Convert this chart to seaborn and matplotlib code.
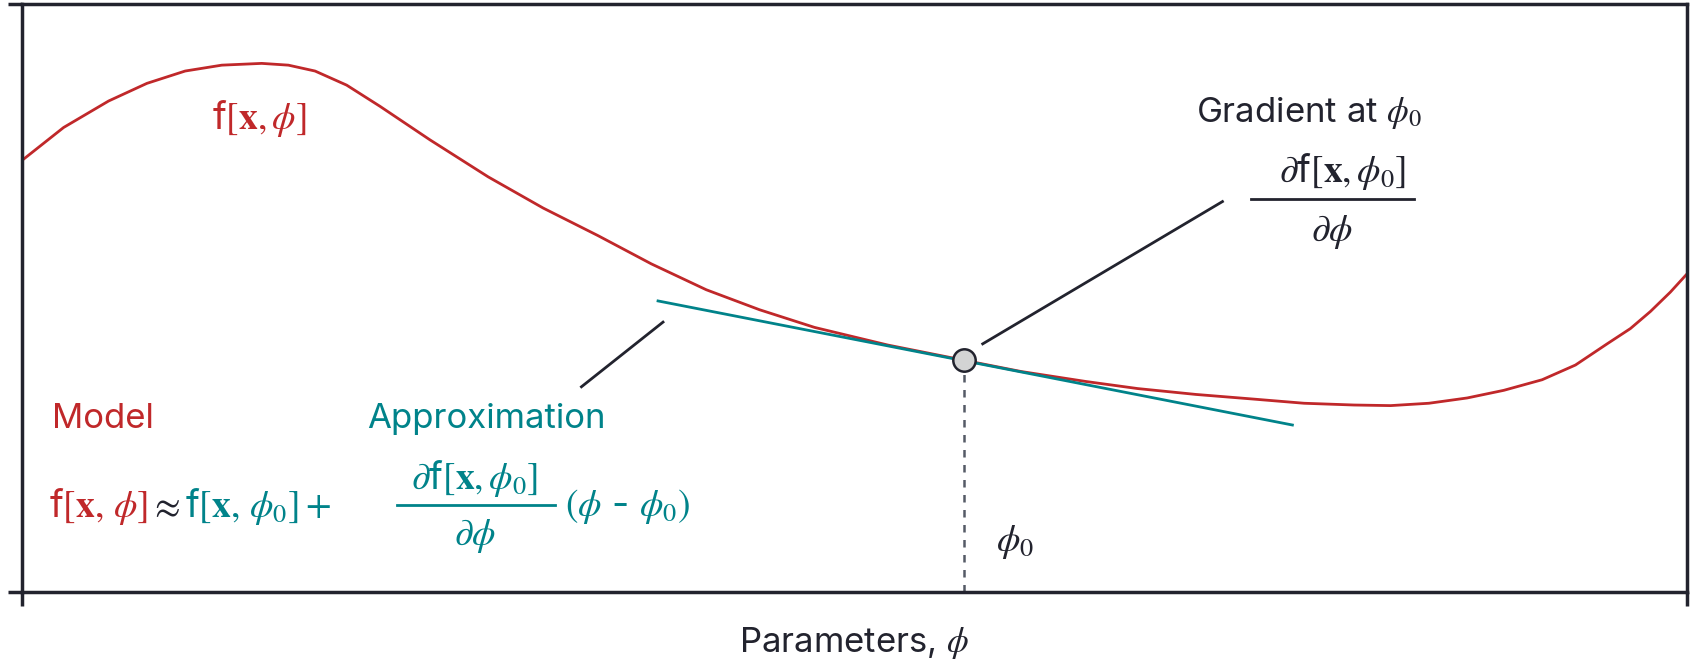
import matplotlib
matplotlib.use("Agg")
import matplotlib.pyplot as plt
import seaborn as sns
import pandas as pd

plt.rcParams["font.family"] = "Inter"
plt.rcParams["mathtext.fontset"] = "stix"

RED = "#c0282a"
TEAL = "#00838a"
DARK = "#22232e"

curve_x = [0, 2.5, 5.2, 7.5, 9.8, 12.0, 14.4, 16.0, 17.6, 19.5, 21.5, 24.5, 28.0, 31.3, 34.6, 37.8, 41.1,
           44.3, 47.6, 52.0, 56.6, 60.0, 63.9, 67.0, 70.5, 74.0, 77.0, 80.0, 82.2, 84.5, 86.8, 89.0, 91.3,
           93.3, 95.2, 96.6, 97.8, 99.0, 100]
curve_y = [73.4, 79.0, 83.5, 86.5, 88.6, 89.6, 89.9, 89.6, 88.6, 86.2, 82.6, 76.9, 70.6, 65.3, 60.6, 55.8,
           51.4, 48.0, 45.0, 42.0, 39.4, 37.5, 35.8, 34.6, 33.6, 32.8, 32.1, 31.8, 31.7, 32.1, 33.0, 34.3,
           36.1, 38.6, 42.2, 44.8, 47.7, 51.0, 54.1]
phi0 = [56.6]
phi0_y = [39.4]
tangent_x = [38.2, 76.3]
tangent_y = [49.5, 28.4]

fig = plt.figure(figsize=(16.95, 6.6), dpi=100)
ax = fig.add_axes([22/1695, 1-592/660, (1687-22)/1695, (592-4)/660])
sns.lineplot(data=pd.DataFrame({"x": curve_x, "y": curve_y}), x="x", y="y", ax=ax, color=RED, lw=2)
sns.lineplot(data=pd.DataFrame({"x": tangent_x, "y": tangent_y}), x="x", y="y", ax=ax, color=TEAL, lw=2)
ax.plot([phi0[0], phi0[0]], [0, phi0_y[0]], ls=(0, (3, 3)), color="#555a66", lw=1.8, zorder=2)
ax.scatter(phi0, phi0_y, s=260, facecolor="#d3d4d4", edgecolor=DARK, lw=1.8, zorder=5)
ax.plot([57.7, 72.1], [42.2, 66.4], color=DARK, lw=2)
ax.plot([33.6, 38.5], [34.9, 45.9], color=DARK, lw=2)

ax.set_xlim(0, 100)
ax.set_ylim(0, 100)
ax.set_xticks([0, 100])
ax.set_yticks([0, 100])
ax.set_xticklabels([])
ax.set_yticklabels([])
ax.tick_params(length=10, width=2.5, color=DARK, direction="out")
for s in ax.spines.values():
    s.set_linewidth(2.5)
    s.set_color(DARK)
ax.set_xlabel(r"Parameters, $\phi$", fontsize=25, color=DARK, labelpad=10)
ax.set_ylabel("")

fs = 25
mfs = 27
ax.text(11.4, 80.5, r"f$[\mathbf{x},\phi]$", color=RED, fontsize=mfs, ha="left", va="center")
ax.text(70.5, 81.5, r"Gradient at $\phi_0$", color=DARK, fontsize=fs, ha="left", va="center")
ax.text(79.3, 71.5, r"$\partial$f$[\mathbf{x},\phi_0]$", color=DARK, fontsize=mfs, ha="center", va="center")
ax.plot([73.8, 83.6], [66.9, 66.9], color=DARK, lw=2)
ax.text(78.7, 61.3, r"$\partial\phi$", color=DARK, fontsize=mfs, ha="center", va="center")
ax.text(1.8, 29.5, "Model", color=RED, fontsize=fs, ha="left", va="center")
ax.text(20.7, 29.5, "Approximation", color=TEAL, fontsize=fs, ha="left", va="center")
ax.text(58.5, 8.5, r"$\phi_0$", color=DARK, fontsize=mfs, ha="left", va="center")

ax.text(1.6, 14.5, r"f$[\mathbf{x},\,\phi]$", color=RED, fontsize=mfs, ha="left", va="center")
ax.text(7.6, 14.5, r"$\approx$", color=DARK, fontsize=mfs, ha="left", va="center")
ax.text(9.8, 14.5, r"f$[\mathbf{x},\,\phi_0]+$", color=TEAL, fontsize=mfs, ha="left", va="center")
ax.text(27.2, 19.3, r"$\partial$f$[\mathbf{x},\phi_0]$", color=TEAL, fontsize=mfs, ha="center", va="center")
ax.plot([22.5, 32.0], [14.8, 14.8], color=TEAL, lw=2)
ax.text(27.2, 9.5, r"$\partial\phi$", color=TEAL, fontsize=mfs, ha="center", va="center")
ax.text(32.6, 14.5, r"$(\phi$ - $\phi_0)$", color=TEAL, fontsize=mfs, ha="left", va="center")

fig.savefig("out.png", dpi=100)
